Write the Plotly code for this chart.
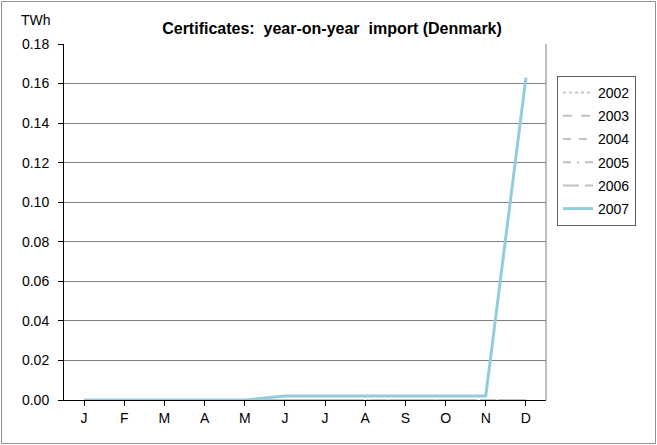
import plotly.graph_objects as go

months = ["J", "F", "M", "A", "M", "J", "J", "A", "S", "O", "N", "D"]
years = ["2002", "2003", "2004", "2005", "2006", "2007"]
v2002 = [0, 0, 0, 0, 0, 0, 0, 0, 0, 0, 0, 0]
v2003 = [0, 0, 0, 0, 0, 0, 0, 0, 0, 0, 0, 0]
v2004 = [0, 0, 0, 0, 0, 0, 0, 0, 0, 0, 0, 0]
v2005 = [0, 0, 0, 0, 0, 0, 0, 0, 0, 0, 0, 0]
v2006 = [0, 0, 0, 0, 0, 0, 0, 0, 0, 0, 0, 0]
v2007 = [0, 0, 0, 0, 0, 0.002, 0.002, 0.002, 0.002, 0.002, 0.002, 0.163]
series = [v2002, v2003, v2004, v2005, v2006, v2007]
dashes = ["dot", "dash", "8px,8px", "8px,6px,2px,6px", "16px,6px", "solid"]
colors = ["#c8c8c8", "#c0c0c0", "#c0c0c0", "#c0c0c0", "#c0c0c0", "#93cddd"]
widths = [2, 2, 2, 2, 2, 3]

W, H = 657, 445
L, R, T, B = 64, 546, 44, 400

fig = go.Figure()
xs = list(range(len(months)))
for name, vals, d, c, w in zip(years, series, dashes, colors, widths):
    fig.add_trace(go.Scatter(x=xs, y=vals, mode="lines", name=name,
                             legendgroup=name,
                             line=dict(color=c, width=w, dash=d)))

fig.update_layout(
    width=W, height=H,
    margin=dict(l=L, r=W - R, t=T, b=H - B),
    paper_bgcolor="white", plot_bgcolor="white",
    font=dict(family="Liberation Sans, Arial, sans-serif", size=14, color="black"),
    showlegend=True,
    legend=dict(x=(557 - L) / (R - L), y=(B - 76) / (B - T), xanchor="left", yanchor="top",
                bordercolor="#606060", borderwidth=1, bgcolor="white",
                tracegroupgap=2, font=dict(size=14)),
    title=dict(text="<b>Certificates:  year-on-year  import (Denmark)</b>",
               x=332 / W, xanchor="center", y=1 - 28 / H, yanchor="middle",
               font=dict(size=16)),
    xaxis=dict(range=[-0.5, 11.5], tickmode="array", tickvals=xs, ticktext=months,
               tickson="boundaries", ticks="outside", ticklen=5, tickcolor="black",
               showline=True, linecolor="black", linewidth=1, showgrid=False,
               zeroline=False, fixedrange=True),
    yaxis=dict(range=[0, 0.18], dtick=0.02, tickformat=".2f", ticks="outside",
               ticklen=5, tickcolor="black", showline=True, linecolor="black",
               linewidth=1, showgrid=True, gridcolor="#808080", gridwidth=1,
               zeroline=False, fixedrange=True, ticklabelstandoff=6),
    annotations=[dict(text="TWh", xref="paper", yref="paper",
                      x=(19 - L) / (R - L), y=(B - 20) / (B - T),
                      xanchor="left", yanchor="middle", showarrow=False,
                      font=dict(size=14))],
    shapes=[
        dict(type="line", xref="paper", yref="paper", x0=1, x1=1, y0=0, y1=1,
             line=dict(color="#808080", width=1)),
        dict(type="rect", xref="paper", yref="paper",
             x0=(1.5 - L) / (R - L), x1=(655.5 - L) / (R - L),
             y0=(B - 443.5) / (B - T), y1=(B - 1.5) / (B - T),
             line=dict(color="#909090", width=1), layer="below"),
    ],
)

fig.write_html("out.html", config={"displayModeBar": False},
               post_script="document.body.style.margin='0';")
